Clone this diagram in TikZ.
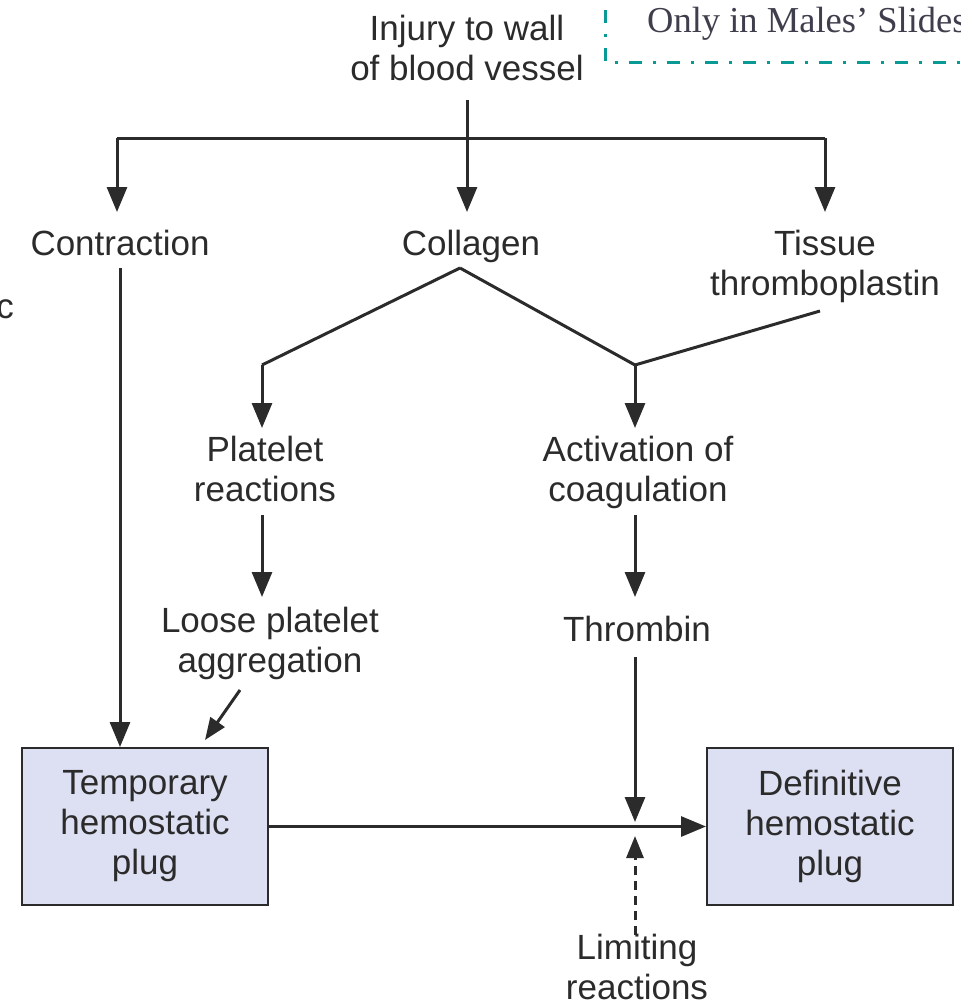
\documentclass[tikz,border=0pt]{standalone}
\usepackage{fontspec}
\setmainfont{Liberation Sans}
\newfontfamily\notefont{Liberation Serif}
\usetikzlibrary{arrows.meta}
\definecolor{txt}{HTML}{2B2B2B}
\definecolor{boxfill}{HTML}{DDE0F2}
\definecolor{teal}{HTML}{0A9A96}
\definecolor{notec}{HTML}{3E3E4C}
\tikzset{
  x=1pt,y=-1pt,
  lbl/.style={inner sep=0pt,align=center,text=txt,font=\fontsize{35}{40}\selectfont,anchor=base},
  plug/.style={draw=txt,line width=2pt,fill=boxfill,minimum width=246pt,minimum height=157pt,align=center,text=txt,font=\fontsize{35}{40}\selectfont,inner sep=0pt},
  conn/.style={line width=3pt,draw=txt},
  arr/.style={conn,-{Triangle[length=25pt,width=20pt]}},
  sarr/.style={conn,-{Triangle[length=22pt,width=17pt]}},
}
\begin{document}
\begin{tikzpicture}
\useasboundingbox (0,0) rectangle (961,1005);
\begin{scope}
\clip (0,0) rectangle (961,1005);
% clipped fragment at left
\node[lbl,anchor=base east] (frag) at (14,318) {oc};
% note
\node[inner sep=0pt,anchor=base west,text=notec,font=\notefont\fontsize{36.5}{40}\selectfont] (note) at (647,32) {Only in Males’ Slides};
\coordinate (n1) at (605,10);
\coordinate (n2) at (605,62);
\coordinate (n3) at (975,62);
\draw[teal,line width=3pt,dash pattern=on 13pt off 11pt on 3pt off 11pt] (n1) -- (n2) -- (n3);
\end{scope}

\node[lbl] (injury) at (467,80) {Injury to wall\\of blood vessel};
\node[lbl] (contr) at (120,255) {Contraction};
\node[lbl] (coll) at (471,255) {Collagen};
\node[lbl] (tissue) at (825,295) {Tissue\\thromboplastin};
\node[lbl] (plat) at (265,501) {Platelet\\reactions};
\node[lbl] (act) at (638,501) {Activation of\\coagulation};
\node[lbl] (loose) at (270,672) {Loose platelet\\aggregation};
\node[lbl] (thromb) at (637,641) {Thrombin};
\node[lbl] (limit) at (637,999) {Limiting\\reactions};
\node[plug] (temp) at (145,826.5) {Temporary\\hemostatic\\plug};
\node[plug] (def) at (830,826.5) {Definitive\\hemostatic\\plug};

\coordinate (top) at (467,100);
\coordinate (bar) at (467,138);
\coordinate (barL) at (117,138);
\coordinate (barR) at (825,138);
\coordinate (contrT) at (117,212);
\coordinate (collT) at (467,212);
\coordinate (tissT) at (825,212);
\draw[conn] (top) -- (bar);
\draw[conn] (barL) -- (barR);
\draw[arr] (bar) -- (collT);
\draw[arr] (barL) -- (contrT);
\draw[arr] (barR) -- (tissT);

\coordinate (collB) at (460,268);
\coordinate (kL) at (262,365);
\coordinate (kR) at (635,365);
\coordinate (tissB) at (820,311);
\coordinate (platT) at (262,428);
\coordinate (actT) at (635,428);
\draw[conn] (collB) -- (kL);
\draw[conn] (collB) -- (kR);
\draw[conn] (tissB) -- (kR);
\draw[arr] (kL) -- (platT);
\draw[arr] (kR) -- (actT);

\draw[arr] (262,515) -- (262,597);
\draw[arr] (635,515) -- (635,597);

\draw[arr] (120,268) -- (temp.north -| 120,0);
\coordinate (lz) at (240,690);
\draw[sarr] (lz) -- (205,740);

\draw[arr] (temp.east) -- (def.west);
\draw[arr] (635,657) -- (635,822);
\draw[sarr,dash pattern=on 9pt off 6pt] (635,935) -- (635,836);
\end{tikzpicture}
\end{document}
